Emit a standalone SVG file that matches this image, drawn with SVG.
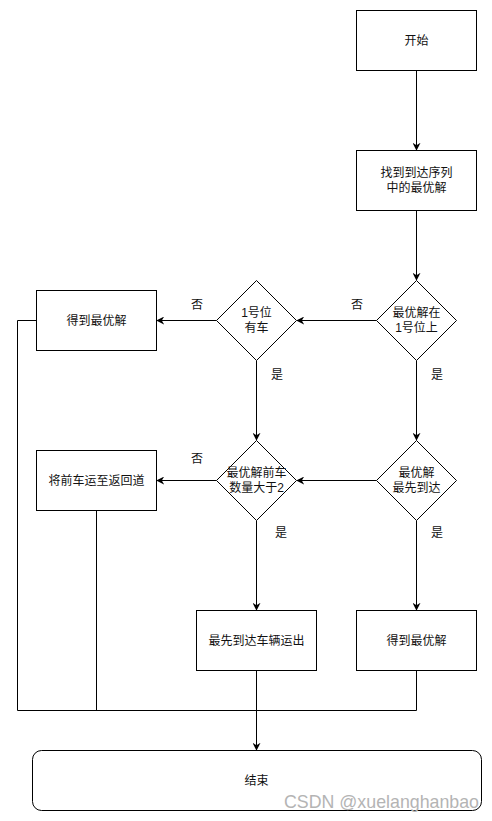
<svg xmlns="http://www.w3.org/2000/svg" width="492" height="821" viewBox="0 0 492 821">
<style>
.n{fill:#fff;stroke:#000;stroke-width:1}
.e{fill:none;stroke:#000;stroke-width:1}
.a{marker-end:url(#arr)}
text{font-family:"Liberation Sans","Noto Sans CJK SC",sans-serif;font-size:12px;fill:#111;text-anchor:middle}
.wm{font-family:"Liberation Sans",sans-serif;font-size:17.8px;fill:#b4b4b4;text-anchor:end}
</style>
<defs>
<marker id="arr" viewBox="0 0 10 10" refX="9" refY="5" markerWidth="8" markerHeight="8" markerUnits="userSpaceOnUse" orient="auto">
<path d="M0,0 L10,5 L0,10 L3,5 Z" fill="#000"/>
</marker>
</defs>
<rect width="492" height="821" fill="#fff"/>
<g id="connectors">
<path class="e a" d="M416.5,70.5 V150"/>
<path class="e a" d="M416.5,210.5 V280"/>
<path class="e a" d="M376.5,320.5 H297"/>
<path class="e a" d="M216.5,320.5 H157"/>
<path class="e a" d="M416.5,360.5 V440"/>
<path class="e a" d="M256.5,360.5 V440"/>
<path class="e a" d="M376.5,480.5 H297"/>
<path class="e a" d="M216.5,480.5 H157"/>
<path class="e a" d="M256.5,520.5 V610"/>
<path class="e a" d="M416.5,520.5 V610"/>
<path class="e" d="M36.5,320.5 H17.5 V710.5 H416.5 V670.5"/>
<path class="e" d="M96.5,510.5 V710.5"/>
<path class="e a" d="M256.5,670.5 V750"/>
<text x="197" y="309">否</text>
<text x="357" y="309">否</text>
<text x="277" y="379">是</text>
<text x="437" y="379">是</text>
<text x="197" y="463">否</text>
<text x="281" y="537">是</text>
<text x="437" y="537">是</text>
</g>
<g id="start"><rect class="n" x="356.5" y="10.5" width="120" height="60"/><text x="416.5" y="45">开始</text></g>
<g id="find"><rect class="n" x="356.5" y="150.5" width="120" height="60"/><text x="416.5" y="177">找到到达序列</text><text x="416.5" y="192">中的最优解</text></g>
<g id="d1"><path class="n" d="M416.5,280.5 L456.5,320.5 L416.5,360.5 L376.5,320.5 Z"/><text x="416.5" y="317">最优解在</text><text x="416.5" y="332">1号位上</text></g>
<g id="d2"><path class="n" d="M256.5,280.5 L296.5,320.5 L256.5,360.5 L216.5,320.5 Z"/><text x="256.5" y="317">1号位</text><text x="256.5" y="332">有车</text></g>
<g id="best1"><rect class="n" x="36.5" y="290.5" width="120" height="60"/><text x="96.5" y="325">得到最优解</text></g>
<g id="d3"><path class="n" d="M256.5,440.5 L296.5,480.5 L256.5,520.5 L216.5,480.5 Z"/><text x="256.5" y="477">最优解前车</text><text x="256.5" y="492">数量大于2</text></g>
<g id="d4"><path class="n" d="M416.5,440.5 L456.5,480.5 L416.5,520.5 L376.5,480.5 Z"/><text x="416.5" y="477">最优解</text><text x="416.5" y="492">最先到达</text></g>
<g id="move"><rect class="n" x="36.5" y="450.5" width="120" height="60"/><text x="96.5" y="485">将前车运至返回道</text></g>
<g id="out"><rect class="n" x="196.5" y="610.5" width="120" height="60"/><text x="256.5" y="645">最先到达车辆运出</text></g>
<g id="best2"><rect class="n" x="356.5" y="610.5" width="120" height="60"/><text x="416.5" y="645">得到最优解</text></g>
<g id="end"><rect class="n" x="32.5" y="750.5" width="449" height="60" rx="9" ry="9"/><text x="256.5" y="785">结束</text></g>
<text class="wm" x="479" y="808">CSDN @xuelanghanbao</text>
</svg>
